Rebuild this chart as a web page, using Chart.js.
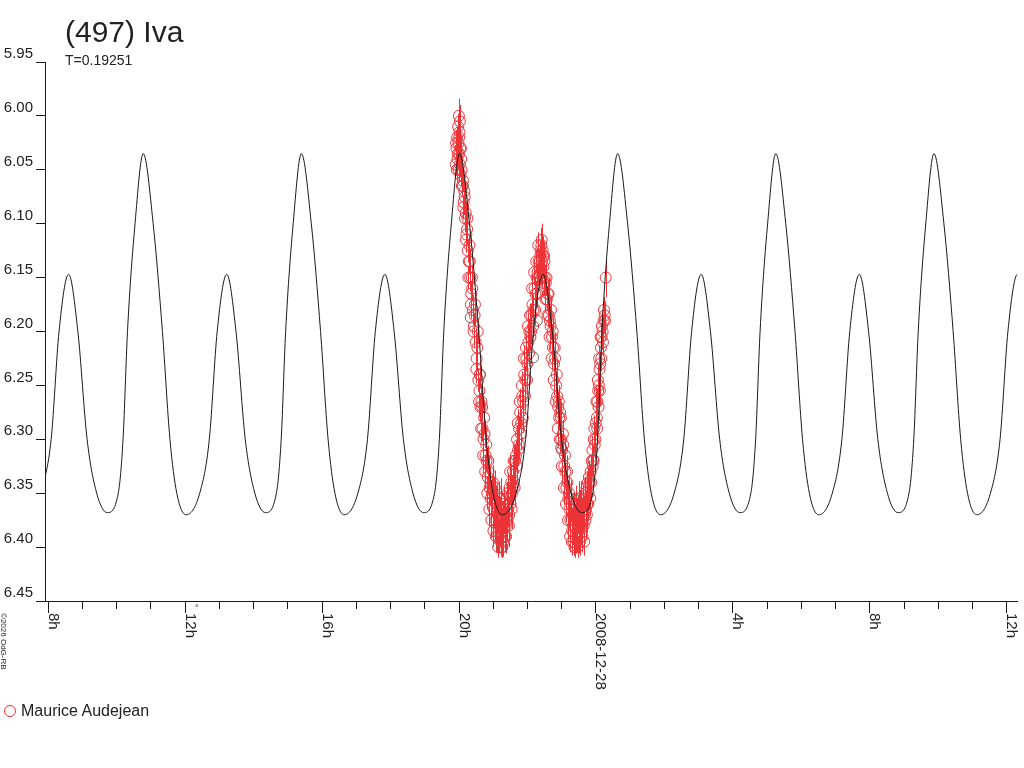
<!DOCTYPE html>
<html lang="en">
<head>
<meta charset="utf-8">
<title>(497) Iva</title>
<script src="https://cdn.jsdelivr.net/npm/chart.js"></script>
<style>
  html, body { margin: 0; padding: 0; background: #fff; }
  #wrap { position: relative; width: 1024px; height: 768px; }
  canvas { display: block; }
  .txt { position: absolute; font-family: "Liberation Sans", Arial, sans-serif; color: #222; white-space: nowrap; }
  #title { left: 65px; top: 17px; font-size: 30px; line-height: 30px; }
  #period { left: 65px; top: 53px; font-size: 14px; line-height: 14px; }
  #legend { left: 21px; top: 703px; font-size: 16px; line-height: 16px; }
  #legendMark { position: absolute; left: 4px; top: 705px; width: 10px; height: 10px; border: 1px solid #ee3338; border-radius: 50%; }
</style>
</head>
<body>
<div id="wrap">
  <canvas id="c" width="1024" height="768"></canvas>
  <div class="txt" id="title">(497) Iva</div>
  <div class="txt" id="period">T=0.19251</div>
  <div id="legendMark"></div>
  <div class="txt" id="legend">Maurice Audejean</div>
</div>
<script>
// hours counted from 2008-12-27 0h (24 = 2008-12-28 0h)
const curveHours = [
  7.82, 8.10, 8.33, 8.61, 8.88, 9.15, 9.43, 9.74, 10.06, 10.20, 10.33, 10.55,
  10.79, 11.08, 11.35, 11.57, 11.77, 12.04, 12.44, 12.72, 12.95, 13.23, 13.50, 13.77, 14.05, 14.36, 14.68, 14.82, 14.95, 15.17,
  15.41, 15.70, 15.97, 16.19, 16.39, 16.66, 17.06, 17.34, 17.57, 17.85, 18.12, 18.39, 18.67, 18.98, 19.30, 19.44, 19.57, 19.79,
  20.03, 20.32, 20.59, 20.81, 21.01, 21.28, 21.68, 21.96, 22.19, 22.47, 22.74, 23.01, 23.29, 23.60, 23.92, 24.06, 24.19, 24.41,
  24.65, 24.94, 25.21, 25.43, 25.63, 25.90, 26.30, 26.58, 26.81, 27.09, 27.36, 27.63, 27.91, 28.22, 28.54, 28.68, 28.81, 29.03,
  29.27, 29.56, 29.83, 30.05, 30.25, 30.52, 30.92, 31.20, 31.43, 31.71, 31.98, 32.25, 32.53, 32.84, 33.16, 33.30, 33.43, 33.65,
  33.89, 34.18, 34.45, 34.67, 34.87, 35.14, 35.54, 35.82, 36.05, 36.33, 36.60
];
const curveMag = [
  6.35, 6.30, 6.20, 6.147, 6.20, 6.30, 6.35, 6.368, 6.35, 6.30, 6.20, 6.10,
  6.035, 6.10, 6.20, 6.30, 6.35, 6.370, 6.35, 6.30, 6.20, 6.147, 6.20, 6.30, 6.35, 6.368, 6.35, 6.30, 6.20, 6.10,
  6.035, 6.10, 6.20, 6.30, 6.35, 6.370, 6.35, 6.30, 6.20, 6.147, 6.20, 6.30, 6.35, 6.368, 6.35, 6.30, 6.20, 6.10,
  6.035, 6.10, 6.20, 6.30, 6.35, 6.370, 6.35, 6.30, 6.20, 6.147, 6.20, 6.30, 6.35, 6.368, 6.35, 6.30, 6.20, 6.10,
  6.035, 6.10, 6.20, 6.30, 6.35, 6.370, 6.35, 6.30, 6.20, 6.147, 6.20, 6.30, 6.35, 6.368, 6.35, 6.30, 6.20, 6.10,
  6.035, 6.10, 6.20, 6.30, 6.35, 6.370, 6.35, 6.30, 6.20, 6.147, 6.20, 6.30, 6.35, 6.368, 6.35, 6.30, 6.20, 6.10,
  6.035, 6.10, 6.20, 6.30, 6.35, 6.370, 6.35, 6.30, 6.20, 6.147, 6.20
];

// Maurice Audejean measurements, first run
const obsHours = [
  19.92, 19.94, 19.96, 19.97, 19.99, 20.00, 20.01, 20.02, 20.03, 20.04, 20.05, 20.06, 20.08, 20.10,
  20.13, 20.15, 20.17, 20.19, 20.21, 20.23, 20.25, 20.27, 20.30, 20.32, 20.34, 20.37, 20.39, 20.42, 20.45, 20.47, 20.50,
  20.53, 20.55, 20.58, 20.61, 20.64, 20.67, 20.70, 20.73, 20.76, 20.79, 20.82, 20.85, 20.88, 20.91, 20.94, 20.97,
  21.00, 21.03, 21.05, 21.08, 21.10, 21.12, 21.15, 21.17, 21.19, 21.21, 21.23, 21.25, 21.27, 21.29, 21.31,
  21.33, 21.35, 21.37, 21.39, 21.41, 21.43, 21.45, 21.47, 21.49, 21.52, 21.54, 21.56, 21.59, 21.62, 21.65,
  21.68, 21.71, 21.74, 21.77, 21.80, 21.83, 21.86, 21.89, 21.92, 21.95, 21.98, 22.01, 22.04, 22.07, 22.10, 22.13,
  22.16, 22.19, 22.22, 22.25, 22.28, 22.31, 22.34, 22.37, 22.40, 22.42, 22.44, 22.46, 22.48, 22.50, 22.52,
  22.55, 22.58, 22.61, 22.64, 22.67, 22.70, 22.73, 22.76, 22.79, 22.82, 22.85, 22.88,
  22.91, 22.94, 22.97, 23.00, 23.03, 23.06, 23.09, 23.12, 23.15, 23.18, 23.21, 23.24,
  23.27, 23.30, 23.32, 23.34, 23.36, 23.38, 23.40, 23.42, 23.44, 23.46, 23.48, 23.50, 23.52, 23.54,
  23.56, 23.58, 23.60, 23.62, 23.64, 23.66, 23.68, 23.70, 23.72, 23.74, 23.76, 23.78, 23.80,
  23.83, 23.86, 23.89, 23.92, 23.95, 23.98, 24.01, 24.04, 24.06, 24.08, 24.10, 24.12, 24.14, 24.16, 24.18,
  24.21, 24.24, 24.27, 24.30
];
const obsMag = [
  6.045, 6.030, 6.020, 6.040, 6.010, 6.025, 6.000, 6.035, 6.015, 6.045, 6.030, 6.055, 6.040, 6.065,
  6.060, 6.080, 6.070, 6.095, 6.090, 6.110, 6.105, 6.125, 6.135, 6.120, 6.150, 6.165, 6.150, 6.180, 6.195, 6.185, 6.210,
  6.225, 6.215, 6.245, 6.255, 6.270, 6.265, 6.290, 6.300, 6.295, 6.315, 6.320, 6.335, 6.330, 6.345, 6.355, 6.350,
  6.340, 6.365, 6.350, 6.375, 6.360, 6.385, 6.370, 6.390, 6.355, 6.380, 6.395, 6.365, 6.385, 6.375, 6.395,
  6.360, 6.380, 6.370, 6.390, 6.355, 6.375, 6.365, 6.380, 6.345, 6.360, 6.340, 6.350, 6.330, 6.340, 6.320,
  6.315, 6.300, 6.310, 6.290, 6.275, 6.285, 6.260, 6.265, 6.240, 6.245, 6.225, 6.230, 6.210, 6.200, 6.205, 6.185,
  6.175, 6.180, 6.160, 6.165, 6.150, 6.145, 6.135, 6.140, 6.125, 6.120, 6.135, 6.125, 6.140, 6.130, 6.150,
  6.155, 6.170, 6.165, 6.185, 6.190, 6.180, 6.205, 6.215, 6.230, 6.225, 6.250, 6.260,
  6.270, 6.280, 6.275, 6.300, 6.310, 6.305, 6.325, 6.330, 6.345, 6.340, 6.355, 6.365,
  6.375, 6.360, 6.385, 6.370, 6.395, 6.365, 6.380, 6.390, 6.360, 6.375, 6.400, 6.370, 6.385, 6.365,
  6.380, 6.355, 6.375, 6.390, 6.360, 6.380, 6.370, 6.350, 6.365, 6.345, 6.360, 6.340, 6.350,
  6.340, 6.330, 6.320, 6.325, 6.300, 6.305, 6.285, 6.280, 6.265, 6.255, 6.250, 6.235, 6.230, 6.215, 6.205,
  6.200, 6.190, 6.185, 6.150
];
const obsErr = [
  0.010, 0.012, 0.010, 0.014, 0.012, 0.010, 0.016, 0.012, 0.010, 0.012, 0.014, 0.010, 0.012, 0.010,
  0.010, 0.012, 0.011, 0.013, 0.010, 0.012, 0.014, 0.011, 0.012, 0.010, 0.013, 0.012, 0.011, 0.014, 0.012, 0.010, 0.013,
  0.012, 0.014, 0.011, 0.012, 0.013, 0.015, 0.012, 0.014, 0.013, 0.015, 0.012, 0.016, 0.014, 0.015, 0.017, 0.016,
  0.016, 0.018, 0.015, 0.020, 0.017, 0.020, 0.018, 0.016, 0.016, 0.019, 0.014, 0.017, 0.021, 0.018, 0.014,
  0.016, 0.020, 0.018, 0.016, 0.015, 0.019, 0.017, 0.020, 0.016, 0.018, 0.015, 0.017, 0.014, 0.016, 0.014,
  0.014, 0.013, 0.015, 0.012, 0.014, 0.013, 0.012, 0.014, 0.011, 0.013, 0.012, 0.014, 0.011, 0.012, 0.013, 0.011,
  0.012, 0.014, 0.011, 0.012, 0.013, 0.011, 0.012, 0.014, 0.013, 0.016, 0.012, 0.014, 0.011, 0.013, 0.012,
  0.012, 0.011, 0.013, 0.012, 0.014, 0.011, 0.012, 0.013, 0.012, 0.011, 0.013, 0.012,
  0.014, 0.012, 0.013, 0.012, 0.014, 0.013, 0.015, 0.014, 0.016, 0.015, 0.017, 0.018,
  0.018, 0.016, 0.021, 0.017, 0.013, 0.016, 0.019, 0.016, 0.017, 0.020, 0.010, 0.018, 0.021, 0.017,
  0.019, 0.016, 0.020, 0.015, 0.017, 0.019, 0.018, 0.015, 0.018, 0.015, 0.017, 0.014, 0.016,
  0.016, 0.015, 0.014, 0.016, 0.013, 0.014, 0.012, 0.014, 0.012, 0.013, 0.012, 0.014, 0.011, 0.013, 0.012,
  0.014, 0.012, 0.013, 0.018
];

// second, interleaved run of the same observer
const obsHours2 = [
  19.93, 19.95, 19.98, 20.00, 20.02, 20.04, 20.07, 20.09,
  20.14, 20.18, 20.22, 20.26, 20.29, 20.33, 20.36, 20.40, 20.44, 20.48, 20.52, 20.56, 20.60, 20.63, 20.66, 20.69,
  20.72, 20.75, 20.78, 20.81, 20.84, 20.87, 20.90, 20.93, 20.96,
  20.99, 21.02, 21.06, 21.09, 21.13, 21.16, 21.20, 21.24, 21.28, 21.32, 21.36, 21.40, 21.44, 21.48, 21.51, 21.55,
  21.58, 21.61, 21.64,
  21.70, 21.73, 21.76, 21.79, 21.82, 21.85, 21.88, 21.91, 21.94, 21.97, 22.00, 22.03, 22.06, 22.09, 22.12,
  22.15, 22.18, 22.21, 22.24, 22.27, 22.30, 22.33, 22.36, 22.39, 22.41, 22.43, 22.45, 22.47, 22.49, 22.51,
  22.54, 22.57, 22.60, 22.63, 22.66, 22.69, 22.72, 22.75, 22.78, 22.81, 22.84, 22.87,
  22.90, 22.93, 22.96, 22.99, 23.02, 23.05, 23.08, 23.11, 23.14, 23.17, 23.20, 23.23,
  23.26, 23.29, 23.31, 23.35, 23.39, 23.43, 23.47, 23.51, 23.55, 23.59, 23.63, 23.67, 23.71, 23.75, 23.79, 23.81,
  23.85, 23.88, 23.91, 23.94, 23.97, 24.00, 24.03, 24.05, 24.07, 24.09, 24.11, 24.13, 24.15, 24.17, 24.19,
  24.22, 24.25, 24.28
];
const obsMag2 = [
  6.025, 6.050, 6.035, 6.050, 6.020, 6.005, 6.030, 6.050,
  6.085, 6.075, 6.115, 6.095, 6.150, 6.135, 6.175, 6.160, 6.200, 6.175, 6.235, 6.200, 6.265, 6.240, 6.290, 6.270,
  6.315, 6.280, 6.330, 6.305, 6.350, 6.320, 6.365, 6.340, 6.375,
  6.355, 6.385, 6.345, 6.390, 6.360, 6.400, 6.370, 6.355, 6.400, 6.370, 6.390, 6.380, 6.350, 6.370, 6.330, 6.365,
  6.345, 6.320, 6.345,
  6.325, 6.285, 6.305, 6.265, 6.295, 6.250, 6.280, 6.225, 6.260, 6.215, 6.245, 6.195, 6.220, 6.185, 6.200,
  6.160, 6.195, 6.145, 6.180, 6.135, 6.165, 6.120, 6.150, 6.130, 6.145, 6.115, 6.150, 6.130, 6.155, 6.135,
  6.170, 6.150, 6.185, 6.165, 6.205, 6.195, 6.225, 6.200, 6.245, 6.215, 6.265, 6.240,
  6.290, 6.265, 6.300, 6.280, 6.325, 6.295, 6.345, 6.315, 6.360, 6.330, 6.375, 6.350,
  6.390, 6.355, 6.395, 6.380, 6.400, 6.370, 6.390, 6.355, 6.395, 6.380, 6.370, 6.395, 6.375, 6.370, 6.360, 6.335,
  6.355, 6.340, 6.310, 6.320, 6.290, 6.300, 6.265, 6.290, 6.245, 6.270, 6.225, 6.255, 6.205, 6.225, 6.195,
  6.210, 6.180, 6.190
];
const obsErr2 = [
  0.012, 0.010, 0.014, 0.011, 0.013, 0.015, 0.012, 0.010,
  0.011, 0.013, 0.012, 0.014, 0.011, 0.012, 0.013, 0.012, 0.014, 0.011, 0.013, 0.012, 0.014, 0.013, 0.012, 0.015,
  0.013, 0.014, 0.016, 0.013, 0.015, 0.014, 0.016, 0.015, 0.017,
  0.017, 0.015, 0.016, 0.015, 0.018, 0.010, 0.017, 0.019, 0.010, 0.018, 0.015, 0.016, 0.019, 0.017, 0.015, 0.018,
  0.016, 0.015, 0.017,
  0.015, 0.013, 0.014, 0.012, 0.015, 0.013, 0.014, 0.012, 0.013, 0.011, 0.014, 0.012, 0.013, 0.011, 0.012,
  0.013, 0.011, 0.012, 0.014, 0.011, 0.013, 0.012, 0.011, 0.014, 0.012, 0.015, 0.011, 0.013, 0.012, 0.014,
  0.012, 0.013, 0.011, 0.014, 0.012, 0.013, 0.011, 0.012, 0.014, 0.013, 0.012, 0.014,
  0.013, 0.015, 0.012, 0.014, 0.015, 0.013, 0.016, 0.014, 0.017, 0.015, 0.018, 0.016,
  0.015, 0.017, 0.013, 0.018, 0.010, 0.017, 0.015, 0.016, 0.013, 0.018, 0.017, 0.013, 0.018, 0.017, 0.016, 0.015,
  0.016, 0.015, 0.013, 0.014, 0.012, 0.014, 0.013, 0.012, 0.014, 0.013, 0.012, 0.014, 0.013, 0.012, 0.014,
  0.013, 0.012, 0.013
];

// darker circles seen underneath the red ones
const greyHours = [20.13, 20.36, 20.62, 21.27, 22.18, 22.29, 23.00, 23.40, 23.94];
const greyMag   = [6.065, 6.187, 6.240, 6.400, 6.224, 6.190, 6.308, 6.356, 6.319];

const yTickValues = [5.95, 6.00, 6.05, 6.10, 6.15, 6.20, 6.25, 6.30, 6.35, 6.40, 6.45];
const xLabelHours = [8, 12, 16, 20, 24, 28, 32, 36];
const xLabels = ['8h', '12h', '16h', '20h', '2008-12-28', '4h', '8h', '12h'];
const xMin = 7.92, xMax = 36.33;

const FONT = '"Liberation Sans", Arial, sans-serif';
const AXIS = '#1a1a1a';
const RED = '#ee3338';

const allHours = obsHours.concat(obsHours2);
const allMag = obsMag.concat(obsMag2);
const allErr = obsErr.concat(obsErr2);

const curve = curveHours.map((h, i) => ({ x: h, y: curveMag[i] }));
const obs = allHours.map((h, i) => ({ x: h, y: allMag[i] }));
const grey = greyHours.map((h, i) => ({ x: h, y: greyMag[i] }));

// error bars under the points, hour ticks + rotated labels under the axis
const overlay = {
  id: 'overlay',
  beforeDatasetsDraw(chart) {
    const ctx = chart.ctx, xs = chart.scales.x, ys = chart.scales.y;
    ctx.save();
    ctx.strokeStyle = RED;
    ctx.lineWidth = 1;
    ctx.beginPath();
    allHours.forEach((h, i) => {
      const x = Math.round(xs.getPixelForValue(h)) + 0.5;
      ctx.moveTo(x, ys.getPixelForValue(allMag[i] - allErr[i]));
      ctx.lineTo(x, ys.getPixelForValue(allMag[i] + allErr[i]));
    });
    ctx.stroke();
    ctx.restore();
  },
  afterDraw(chart) {
    const ctx = chart.ctx, xs = chart.scales.x;
    const bottom = chart.chartArea.bottom;
    ctx.save();
    ctx.strokeStyle = AXIS;
    ctx.lineWidth = 1;
    ctx.beginPath();
    for (let h = 8; h <= 36; h++) {
      const x = Math.round(xs.getPixelForValue(h)) + 0.5;
      ctx.moveTo(x, bottom);
      ctx.lineTo(x, bottom + (h % 4 === 0 ? 12 : 8));
    }
    ctx.stroke();

    ctx.fillStyle = '#222';
    ctx.font = '15px ' + FONT;
    ctx.textAlign = 'left';
    ctx.textBaseline = 'alphabetic';
    xLabelHours.forEach((h, i) => {
      const x = Math.round(xs.getPixelForValue(h));
      ctx.save();
      ctx.translate(x + 1, bottom + 12);
      ctx.rotate(Math.PI / 2);
      ctx.fillText(xLabels[i], 0, 0);
      ctx.restore();
    });

    // small mark next to 12h
    ctx.font = '9px ' + FONT;
    ctx.fillText('°', xs.getPixelForValue(12.3), bottom + 10);

    // copyright, vertical
    ctx.font = '8px ' + FONT;
    ctx.translate(1, bottom + 12);
    ctx.rotate(Math.PI / 2);
    ctx.fillText('©2026 OdG-RB', 0, 0);
    ctx.restore();
  }
};

new Chart(document.getElementById('c'), {
  type: 'scatter',
  data: {
    datasets: [
      {
        type: 'line',
        data: curve,
        borderColor: '#1a1a1a',
        borderWidth: 1,
        pointRadius: 0,
        fill: false,
        cubicInterpolationMode: 'monotone'
      },
      {
        data: obs,
        pointRadius: 5.5,
        borderWidth: 1,
        borderColor: RED,
        backgroundColor: 'rgba(0,0,0,0)'
      },
      {
        data: grey,
        pointRadius: 5.5,
        borderWidth: 1,
        borderColor: '#666',
        backgroundColor: 'rgba(0,0,0,0)'
      }
    ]
  },
  options: {
    responsive: false,
    animation: false,
    devicePixelRatio: 1,
    layout: { padding: { top: 62, right: 6, left: 0, bottom: 0 } },
    plugins: { legend: { display: false }, tooltip: { enabled: false } },
    scales: {
      x: {
        type: 'linear',
        min: xMin,
        max: xMax,
        grid: { display: false },
        border: { display: true, color: AXIS, width: 1 },
        ticks: { display: false },
        afterFit(s) { s.height = 167; }
      },
      y: {
        type: 'linear',
        reverse: true,
        min: 5.95,
        max: 6.45,
        afterBuildTicks(s) { s.ticks = yTickValues.map(v => ({ value: v })); },
        ticks: {
          callback: v => v.toFixed(2),
          font: { family: FONT, size: 15 },
          color: '#222',
          padding: 3,
          labelOffset: -8
        },
        grid: { display: true, drawOnChartArea: false, drawTicks: true, tickLength: 9, color: AXIS, lineWidth: 1 },
        border: { display: true, color: AXIS, width: 1 },
        afterFit(s) { s.width = 45; }
      }
    }
  },
  plugins: [overlay]
});
</script>
</body>
</html>
